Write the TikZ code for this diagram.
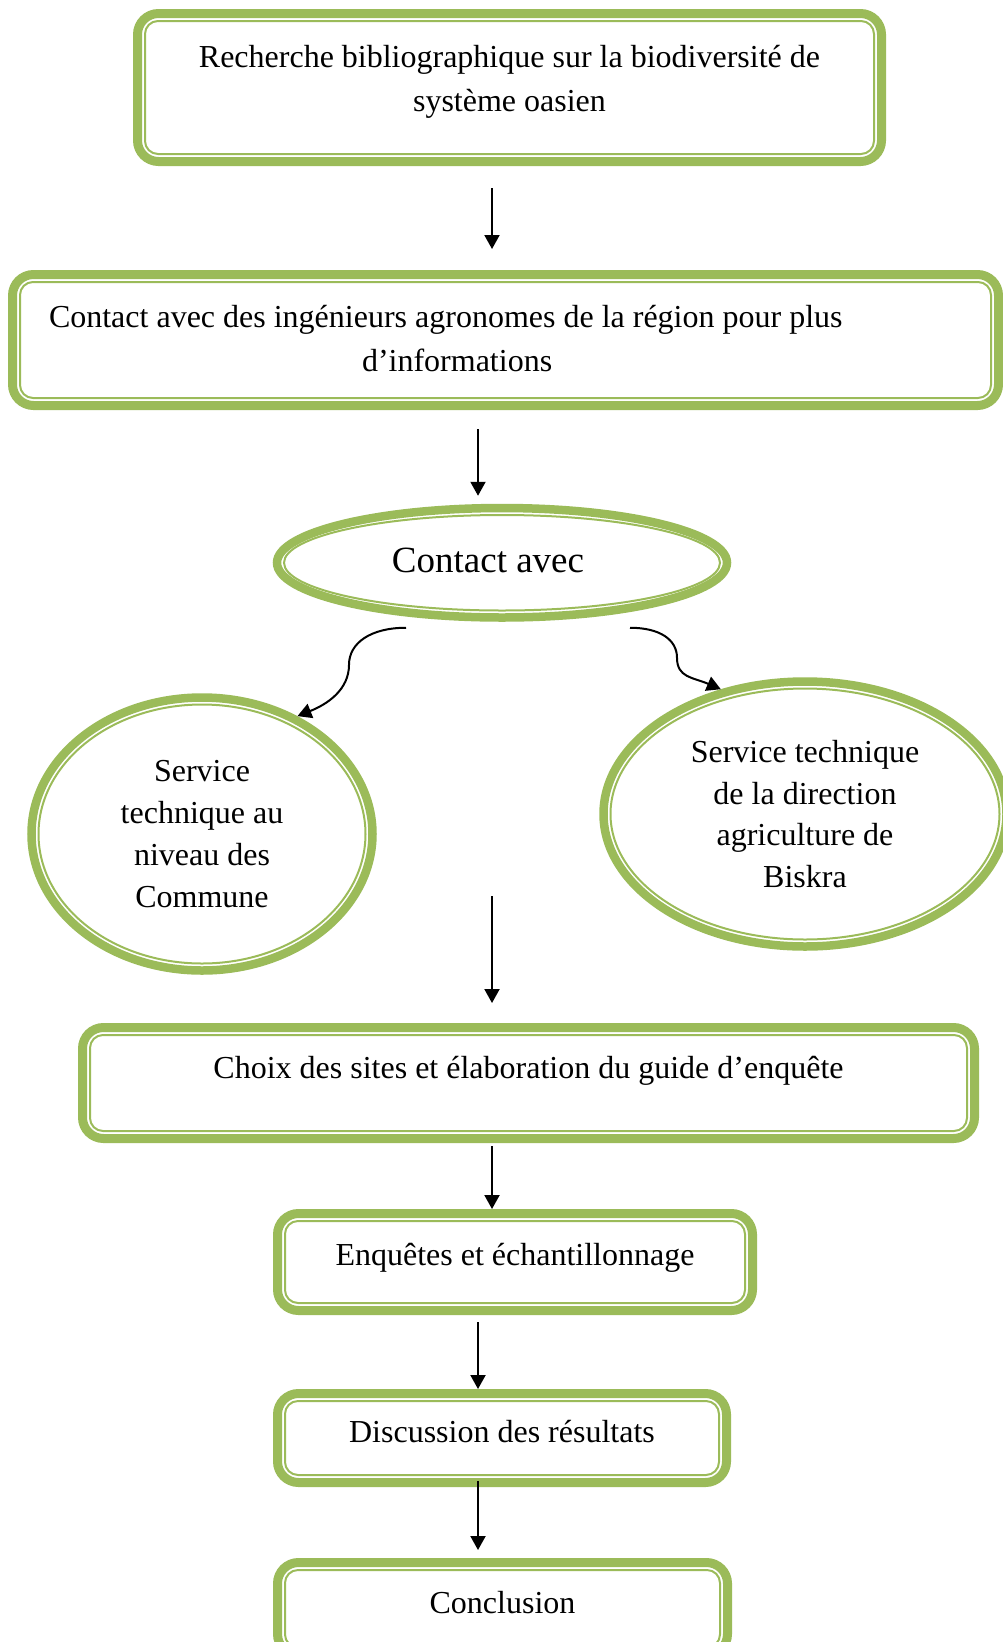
\documentclass[tikz,border=0pt]{standalone}
\usepackage{fontspec}
\setmainfont{Liberation Serif}
\usepackage{tikz}
\usetikzlibrary{shapes}
\usetikzlibrary{arrows.meta}
\definecolor{oasis}{RGB}{155,187,89}

\begin{document}
\begin{tikzpicture}[x=1pt,y=-1pt,
						box/.style={rectangle,draw=oasis,line width=9pt,rounded corners=21pt,inner sep=0pt,anchor=north,font=\fontsize{32}{44}\selectfont,execute at begin node={\spaceskip=8pt\relax}},
						oval/.style={ellipse,draw=oasis,line width=8.5pt,inner sep=0pt,align=center,font=\fontsize{32}{41.7}\selectfont},
						inline/.style={draw=oasis,line width=2pt},
						arr/.style={line width=2pt,-{Triangle[width=15pt,length=14pt]}}
						]
						\useasboundingbox (0,0) rectangle (1003,1642);
						\node[box,minimum width=744pt,text width=720pt,align=center,text height=53.5pt,text depth=94.5pt] (biblio) at (509.5,9) {Recherche bibliographique sur la biodiversité de\\système oasien};
						\node[box,minimum width=986pt,text width=913pt,align=left,text height=52.5pt,text depth=78.5pt] (ing) at (505.5,270) {Contact avec des ingénieurs agronomes de la région pour plus\\\hspace*{313pt}d’informations};
						\node[oval,minimum width=450pt,minimum height=109.5pt,font=\fontsize{37}{44}\selectfont,text height=25pt,text depth=6.5pt] (contact) at (502,562.75) {Contact avec\hspace*{28pt}};
						\node[oval,minimum width=341pt,minimum height=273pt] (commune) at (202,834) {Service\\technique au\\niveau des\\Commune};
						\node[oval,minimum width=403pt,minimum height=265pt] (dsa) at (805,814) {Service technique\\de la direction\\agriculture de\\Biskra};
						\node[box,minimum width=892pt,text height=50.5pt,text depth=60.5pt] (choix) at (528.5,1023) {Choix des sites et élaboration du guide d’enquête};
						\node[box,minimum width=475pt,text height=51.5pt,text depth=45.5pt] (enq) at (515,1209) {Enquêtes et échantillonnage};
						\node[box,minimum width=449pt,text height=48.5pt,text depth=40.5pt] (disc) at (502,1389) {Discussion des résultats};
						\node[box,minimum width=450pt,text height=50.5pt,text depth=42pt] (concl) at (502.5,1558) {Conclusion};
						\foreach \n in {biblio,ing,choix,enq,disc,concl}
							\draw[inline,rounded corners=13pt] ([shift={(12,12)}]\n.north west) rectangle ([shift={(-12,-12)}]\n.south east);
						\foreach \n/\rx/\ry in {contact/218/47.75,commune/163.5/129.5,dsa/194.5/125.5}
							\draw[inline] (\n.center) ellipse [x radius=\rx, y radius=\ry];
						\draw[arr,shorten <=22pt,shorten >=21pt] (biblio.south -| 492,0) -- (ing.north -| 492,0);
						\draw[arr,shorten <=19pt,shorten >=8pt] (ing.south -| 478,0) -- (contact.north -| 478,0);
						\draw[arr] ([shift={(-96,6)}]contact.south) .. controls +(-35,0) and +(0,-22) .. ++(-57,37) .. controls +(0,25) and +(30,-12) .. (commune.51);
						\draw[arr] ([shift={(128,6)}]contact.south) .. controls +(30,0) and +(0,-18) .. ++(47,30) .. controls +(0,20) and +(-28,-12) .. (dsa.124);
						\coordinate (a3) at (492,896);
						\draw[arr,shorten >=20pt] (a3) -- (a3 |- choix.north);
						\draw[arr,shorten <=3pt] (choix.south -| 492,0) -- (enq.north -| 492,0);
						\draw[arr,shorten <=7pt] (enq.south -| 478,0) -- (disc.north -| 478,0);
						\draw[arr,shorten <=-6pt,shorten >=8pt] (disc.south -| 478,0) -- (concl.north -| 478,0);
\end{tikzpicture}
\end{document}
